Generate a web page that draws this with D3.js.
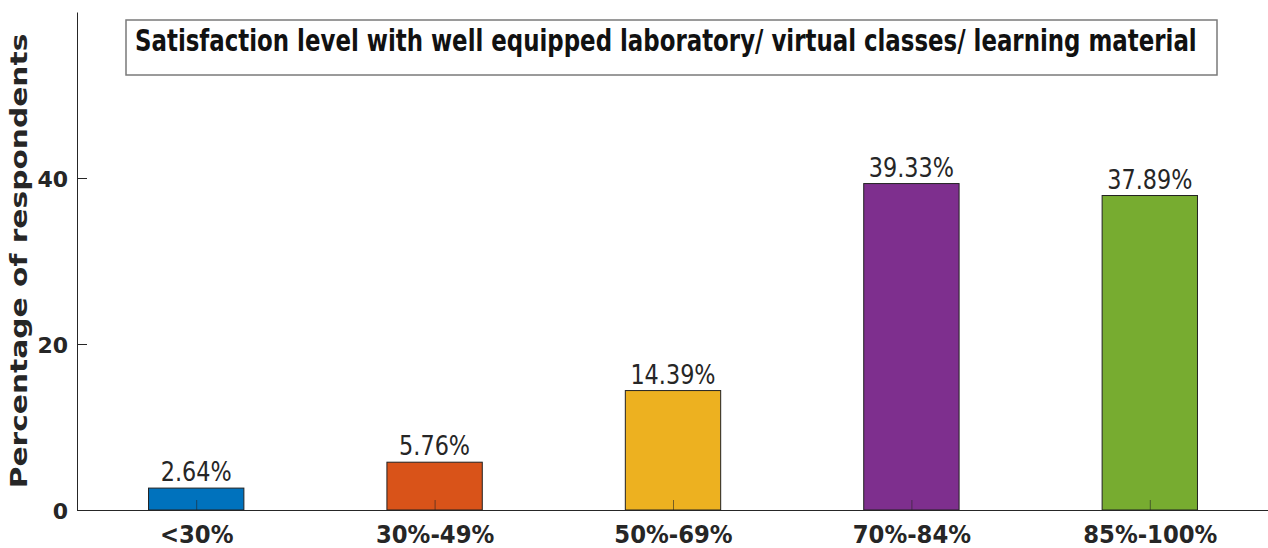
<!DOCTYPE html>
<html><head><meta charset="utf-8">
<script src="https://cdn.jsdelivr.net/npm/d3@7"></script>
<style>body{margin:0;background:#fff}svg{display:block}</style>
</head><body>
<svg id="c" width="1268" height="548"></svg>
<script>
const categories = ["<30%", "30%-49%", "50%-69%", "70%-84%", "85%-100%"];
const values = [2.64, 5.76, 14.39, 39.33, 37.89];
const valueLabels = ["2.64%", "5.76%", "14.39%", "39.33%", "37.89%"];
const colors = ["#0072BD", "#D95319", "#EDB120", "#7E2F8E", "#77AC30"];
const yTicks = [0, 20, 40];
const titleText = "Satisfaction level with well equipped laboratory/ virtual classes/ learning material";
const yLabel = "Percentage of respondents";

(function () {
const svg = d3.select("#c");
const mLeft = 77, mRight = 1269, mTop = 12, mBottom = 510;
const x = d3.scaleLinear().domain([0.5, categories.length + 0.5]).range([mLeft, mRight]);
const y = d3.scaleLinear().domain([0, 60]).range([mBottom, mTop]);
const step = x(2) - x(1);
const bw = step * 0.4;

// bars
svg.selectAll("rect.bar").data(values).enter().append("rect")
  .attr("class", "bar")
  .attr("x", (d, i) => x(i + 1) - bw / 2)
  .attr("y", d => y(d))
  .attr("width", bw)
  .attr("height", d => y(0) - y(d))
  .attr("fill", (d, i) => colors[i])
  .attr("stroke", "#222").attr("stroke-width", 1);

// value labels
svg.selectAll("text.val").data(values).enter().append("text")
  .attr("class", "val")
  .attr("transform", (d, i) => `translate(${x(i + 1)},${y(d) - 7}) scale(0.86,1)`)
  .attr("text-anchor", "middle")
  .attr("font-family", "DejaVu Sans")
  .attr("font-size", 26)
  .attr("fill", "#262626")
  .text((d, i) => valueLabels[i]);

// y axis
const yAxis = d3.axisLeft(y).tickValues(yTicks).tickSizeInner(-10).tickSizeOuter(0).tickPadding(9);
const gy = svg.append("g").attr("transform", `translate(${mLeft},0)`).call(yAxis);
gy.select(".domain").attr("stroke", "#262626");
gy.selectAll(".tick line").attr("stroke", "#262626");
gy.selectAll(".tick text").attr("font-family", "DejaVu Sans").attr("font-weight", "bold")
  .attr("font-size", 22).attr("fill", "#262626").attr("dy", "0.4em");

// x axis
const xAxis = d3.axisBottom(x).tickValues(d3.range(1, categories.length + 1))
  .tickFormat(d => categories[d - 1]).tickSizeInner(-10).tickSizeOuter(0).tickPadding(0);
const gx = svg.append("g").attr("transform", `translate(0,${mBottom})`).call(xAxis);
gx.select(".domain").attr("stroke", "#262626");
gx.selectAll(".tick line").attr("stroke", "#262626").attr("stroke-opacity", 0.6);
gx.selectAll(".tick text")
  .attr("y", null).attr("dy", null)
  .attr("transform", "translate(0,33) scale(0.91,1)")
  .attr("font-family", "DejaVu Sans").attr("font-weight", "bold")
  .attr("font-size", 25).attr("fill", "#262626");

// y label (stretched along its length to match the reference)
const yl = svg.append("text")
  .attr("text-anchor", "middle")
  .attr("font-family", "DejaVu Sans").attr("font-weight", "bold").attr("font-size", 23)
  .attr("fill", "#262626")
  .text(yLabel);
const ylLen = yl.node().getComputedTextLength();
yl.attr("transform", `translate(27,261) rotate(-90) scale(${455 / ylLen},1)`);

// title box
svg.append("rect").attr("x", 126).attr("y", 20).attr("width", 1091).attr("height", 55)
  .attr("fill", "#fff").attr("stroke", "#7a7a7a").attr("stroke-width", 1.5);
const tt = svg.append("text")
  .attr("font-family", "DejaVu Sans Condensed").attr("font-stretch", "condensed")
  .attr("font-weight", "bold").attr("font-size", 30)
  .attr("fill", "#111")
  .text(titleText);
const ttLen = tt.node().getComputedTextLength();
tt.attr("transform", `translate(135,51) scale(${1062 / ttLen},1)`);
})();
</script>
</body></html>
